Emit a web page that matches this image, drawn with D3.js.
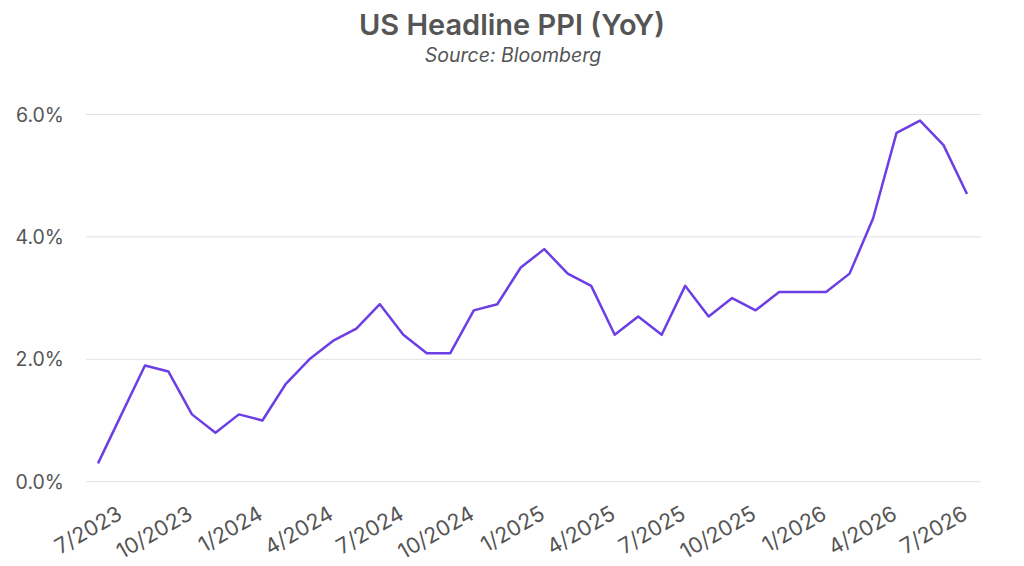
<!DOCTYPE html>
<meta charset="utf-8">
<html lang="en">
<style>
body { margin: 0; background: #fff; }
.title { font: 600 29px Inter, sans-serif; fill: #555; }
.subtitle { font: italic 19.5px Inter, sans-serif; fill: #555; }
.grid line { stroke: #e2e2e2; stroke-width: 1px; }
.ylab { font: 19.5px Inter, sans-serif; fill: #555; }
.xlab { font: 21.5px Inter, sans-serif; fill: #555; }
.line { fill: none; stroke: #6b3fe3; stroke-width: 2.5px; stroke-linejoin: round; }
</style>
<body>
<div id="chart"></div>
<script src="https://d3js.org/d3.v7.min.js"></script>
<script>
// monthly, 6/2023 .. 7/2026
var months = ["6/2023","7/2023","8/2023","9/2023","10/2023","11/2023","12/2023",
  "1/2024","2/2024","3/2024","4/2024","5/2024","6/2024","7/2024","8/2024","9/2024","10/2024","11/2024","12/2024",
  "1/2025","2/2025","3/2025","4/2025","5/2025","6/2025","7/2025","8/2025","9/2025","10/2025","11/2025","12/2025",
  "1/2026","2/2026","3/2026","4/2026","5/2026","6/2026","7/2026"];
var ppi = [0.3, 1.1, 1.9, 1.8, 1.1, 0.8, 1.1,
  1.0, 1.6, 2.0, 2.3, 2.5, 2.9, 2.4, 2.1, 2.1, 2.8, 2.9, 3.5,
  3.8, 3.4, 3.2, 2.4, 2.7, 2.4, 3.2, 2.7, 3.0, 2.8, 3.1, 3.1,
  3.1, 3.4, 4.3, 5.7, 5.9, 5.5, 4.7];
var xTicks = ["7/2023","10/2023","1/2024","4/2024","7/2024","10/2024","1/2025",
  "4/2025","7/2025","10/2025","1/2026","4/2026","7/2026"];
var yTicks = [0, 2, 4, 6];

var width = 1024, height = 566;

var svg = d3.select("#chart").append("svg")
    .attr("width", width)
    .attr("height", height);

var x = d3.scalePoint()
    .domain(months)
    .range([98, 967]);
var y = d3.scaleLinear()
    .domain([0, 6])
    .range([481.7, 114.5]);

svg.append("text").attr("class", "title")
    .attr("x", 512).attr("y", 35).attr("text-anchor", "middle")
    .text("US Headline PPI (YoY)");
svg.append("text").attr("class", "subtitle")
    .attr("x", 513).attr("y", 62).attr("text-anchor", "middle")
    .text("Source: Bloomberg");

// gridlines
var grid = svg.append("g").attr("class", "grid");
grid.selectAll("line").data(yTicks).enter().append("line")
    .attr("x1", 86).attr("x2", 981)
    .attr("y1", function(d) { return y(d); })
    .attr("y2", function(d) { return y(d); });

svg.selectAll(".ylab").data(yTicks).enter().append("text")
    .attr("class", "ylab")
    .attr("x", 64)
    .attr("y", function(d) { return y(d); })
    .attr("dy", "0.36em")
    .attr("text-anchor", "end")
    .text(function(d) { return d3.format(".1f")(d) + "%"; });

svg.selectAll(".xlab").data(xTicks).enter().append("text")
    .attr("class", "xlab")
    .attr("text-anchor", "end")
    .attr("transform", function(d) { return "translate(" + (x(d) + 2) + ",518) rotate(-30)"; })
    .text(function(d) { return d; });

var line = d3.line()
    .x(function(d, i) { return x(months[i]); })
    .y(function(d) { return y(d); });

svg.append("path")
    .datum(ppi)
    .attr("class", "line")
    .attr("d", line);
</script>
</body>
</html>
